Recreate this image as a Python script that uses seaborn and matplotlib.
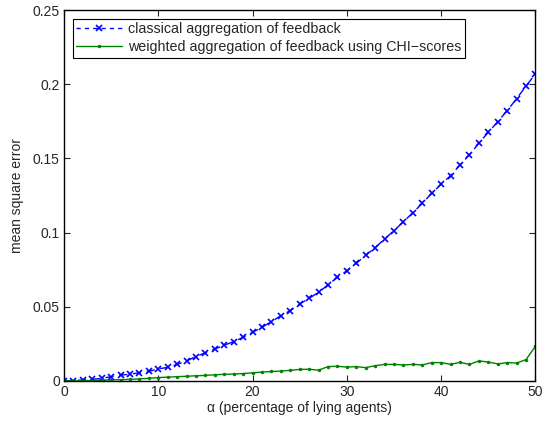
import numpy as np
import pandas as pd
import matplotlib
matplotlib.use("Agg")
import matplotlib.pyplot as plt
import seaborn as sns

# percentage of lying agents
alpha = list(range(0, 51))

# classical aggregation (blue, dashed, x markers)
mse_classical = [0.0000, 0.0002, 0.0007, 0.0011, 0.0018, 0.0029, 0.0040, 0.0045, 0.0056, 0.0065,
                 0.0081, 0.0092, 0.0112, 0.0135, 0.0165, 0.0190, 0.0216, 0.0241, 0.0265, 0.0294,
                 0.0328, 0.0362, 0.0400, 0.0440, 0.0474, 0.0519, 0.0557, 0.0598, 0.0647, 0.0699,
                 0.0743, 0.0793, 0.0847, 0.0898, 0.0957, 0.1013, 0.1073, 0.1134, 0.1197, 0.1265,
                 0.1325, 0.1384, 0.1456, 0.1525, 0.1602, 0.1676, 0.1747, 0.1822, 0.1902, 0.1988,
                 0.2069]

# weighted aggregation with CHI-scores (green, solid, dot markers)
mse_weighted = [0.0000, 0.0001, 0.0002, 0.0003, 0.0005, 0.0007, 0.0009, 0.0011, 0.0014, 0.0018,
                0.0023, 0.0026, 0.0029, 0.0032, 0.0035, 0.0038, 0.0042, 0.0045, 0.0047, 0.0050,
                0.0055, 0.0060, 0.0064, 0.0067, 0.0072, 0.0078, 0.0079, 0.0073, 0.0097, 0.0099,
                0.0094, 0.0097, 0.0090, 0.0103, 0.0112, 0.0112, 0.0108, 0.0112, 0.0108, 0.0124,
                0.0124, 0.0112, 0.0126, 0.0112, 0.0135, 0.0128, 0.0115, 0.0124, 0.0121, 0.0144,
                0.0234]

label_classical = "classical aggregation of feedback"
label_weighted = "weighted aggregation of feedback using CHI\u2212scores"

df = pd.DataFrame({"alpha": alpha, "classical": mse_classical, "weighted": mse_weighted})

sns.set_style("white")
plt.rcParams["font.family"] = ["Liberation Sans", "DejaVu Sans"]
plt.rcParams["axes.unicode_minus"] = True

blue = (0, 0, 1)
green = (0, 0.5, 0)

fig = plt.figure(figsize=(5.56, 4.23), dpi=100)
ax = fig.add_axes([0.115, 0.0993, 0.848, 0.877])

sns.lineplot(data=df, x="alpha", y="classical", ax=ax, color=blue, dashes=False,
             marker="x", markersize=5, markeredgewidth=1.2, markeredgecolor=blue,
             linewidth=1.0, label=label_classical)
sns.lineplot(data=df, x="alpha", y="weighted", ax=ax, color=green,
             marker="o", markersize=2, markeredgewidth=0.5, markeredgecolor=green,
             markerfacecolor=green, linewidth=1.0, label=label_weighted)
ax.lines[0].set_linestyle((0, (6, 4)))

ax.set_xlim(0, 50)
ax.set_ylim(0, 0.25)
ax.set_xticks([0, 10, 20, 30, 40, 50])
ax.set_yticks([0, 0.05, 0.1, 0.15, 0.2, 0.25])
ax.set_yticklabels(["0", "0.05", "0.1", "0.15", "0.2", "0.25"])
ax.tick_params(direction="in", top=True, right=True, length=4, width=0.8, labelsize=10,
               bottom=True, left=True, pad=3)
for s in ax.spines.values():
    s.set_visible(True)
    s.set_color("black")
    s.set_linewidth(1.0)

ax.set_xlabel("\u03b1 (percentage of lying agents)", fontsize=10, labelpad=1)
ax.set_ylabel("mean square error", fontsize=10, labelpad=6)

leg = ax.legend(loc="upper left", fontsize=10.3, frameon=True, fancybox=False,
                edgecolor="black", framealpha=1, borderpad=0.25, labelspacing=0.3,
                handlelength=3.2, handletextpad=0.4, borderaxespad=0.6)
leg.get_frame().set_linewidth(0.8)
leg.get_lines()[0].set_linestyle((0, (3, 3)))

fig.savefig("out.png", dpi=100)
